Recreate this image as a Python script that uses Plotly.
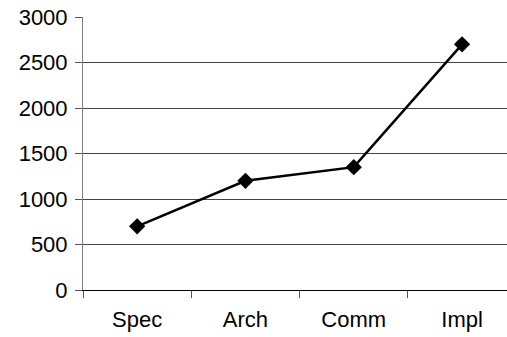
import plotly.graph_objects as go

categories = ["Spec", "Arch", "Comm", "Impl"]
values = [700, 1200, 1350, 2700]
y_ticks = [0, 500, 1000, 1500, 2000, 2500, 3000]
grid_vals = [500, 1000, 1500, 2000, 2500]

fig = go.Figure()
# empty trace so the grid-only overlay axis is drawn
fig.add_trace(go.Scatter(
    x=categories, y=[None] * len(categories), yaxis="y2",
    mode="lines", showlegend=False, hoverinfo="skip",
))
fig.add_trace(go.Scatter(
    x=categories, y=values, mode="lines+markers",
    line=dict(color="black", width=2.5),
    marker=dict(symbol="diamond", size=12.5, color="black"),
    showlegend=False,
))

fig.update_layout(
    width=507, height=337,
    margin=dict(l=83, r=0, t=17, b=47),
    paper_bgcolor="white", plot_bgcolor="white",
    font=dict(family="Liberation Sans, Arial, sans-serif", size=22, color="black"),
    xaxis=dict(
        type="category", range=[-0.5, 3.415],
        showgrid=False, showline=True, linecolor="black", linewidth=1,
        ticks="outside", tickson="boundaries", ticklen=7, tickcolor="#555",
        zeroline=False, ticklabelstandoff=10,
    ),
    yaxis=dict(
        range=[0, 3000], tickvals=y_ticks,
        showgrid=False,
        showline=True, linecolor="#808080", linewidth=1,
        ticks="outside", ticklen=7, tickcolor="#555",
        zeroline=False, ticklabelstandoff=3,
    ),
    yaxis2=dict(
        overlaying="y", range=[0, 3000], side="left",
        tickvals=grid_vals, showticklabels=False, ticks="",
        showgrid=True, gridcolor="#444", gridwidth=1,
        showline=False, zeroline=False,
    ),
)

fig.write_html("out.html", config={"displayModeBar": False},
               post_script="document.body.style.margin='0px';")
